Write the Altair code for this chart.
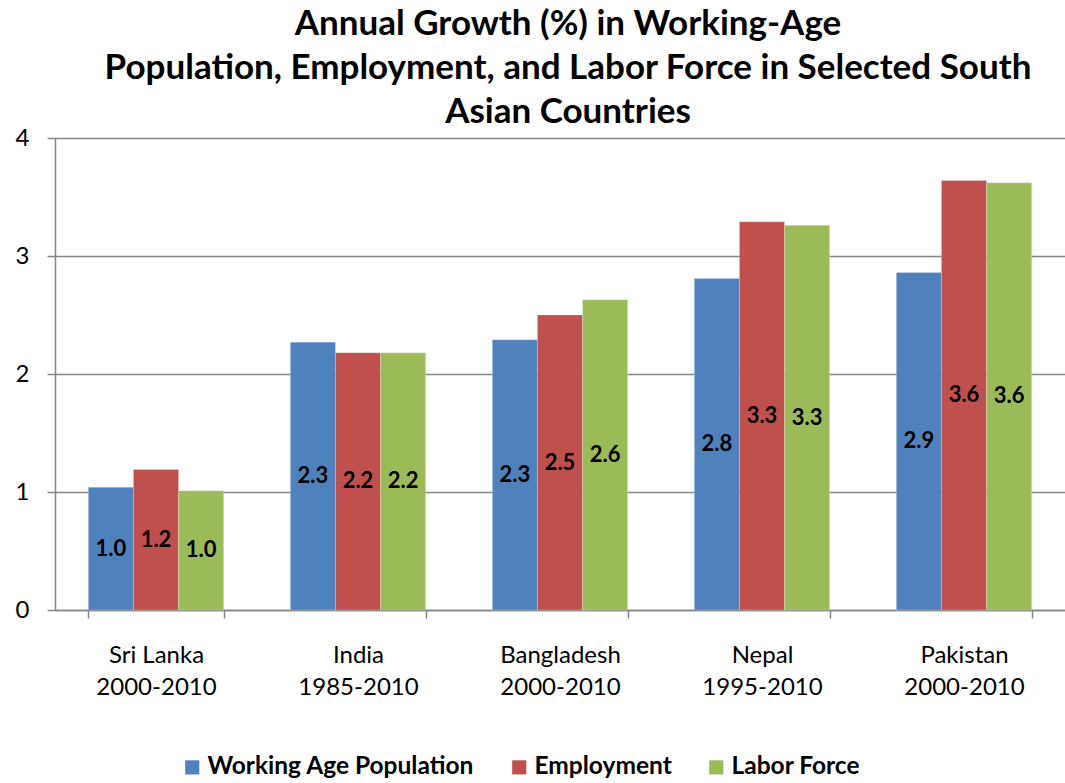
import altair as alt
import pandas as pd

countries = ["Sri Lanka|2000-2010", "India|1985-2010", "Bangladesh|2000-2010",
             "Nepal|1995-2010", "Pakistan|2000-2010"]
series = ["Working Age Population", "Employment", "Labor Force"]
working_age = [1.04, 2.27, 2.29, 2.81, 2.86]
employment = [1.19, 2.18, 2.50, 3.29, 3.64]
labor_force = [1.01, 2.18, 2.63, 3.26, 3.62]
colors = ["#4F81BD", "#C0504D", "#9BBB59"]

rows = []
for i, c in enumerate(countries):
    for s, vals in zip(series, [working_age, employment, labor_force]):
        rows.append({"country": c, "series": s, "value": vals[i]})
df = pd.DataFrame(rows)

FONT = "Lato"

x = alt.X("country:N", sort=countries, title=None,
          scale=alt.Scale(paddingInner=0.33, paddingOuter=0.165),
          axis=alt.Axis(labelExpr="split(datum.label, '|')", labelAngle=0,
                        tickBand="extent", labelFontSize=24, labelLineHeight=32,
                        labelPadding=25, tickSize=8, labelColor="#000000",
                        domainColor="#868686", tickColor="#868686",
                        domainWidth=1.5, tickWidth=1.5, grid=False))
xo = alt.XOffset("series:N", sort=series, scale=alt.Scale(paddingInner=0, paddingOuter=0))

bars = alt.Chart(df).mark_bar(stroke="#ffffff", strokeWidth=0.4, strokeOpacity=0.6).encode(
    x=x,
    xOffset=xo,
    y=alt.Y("value:Q", title=None,
            scale=alt.Scale(domain=[0, 4], nice=False),
            axis=alt.Axis(values=[0, 1, 2, 3, 4], format="d", labelFontSize=24,
                          labelColor="#000000", tickSize=8, labelPadding=18,
                          domainColor="#868686", tickColor="#868686",
                          gridColor="#868686", gridWidth=1.5,
                          domainWidth=1.5, tickWidth=1.5)),
    color=alt.Color("series:N", sort=series,
                    scale=alt.Scale(domain=series, range=colors),
                    legend=alt.Legend(title=None, orient="none", direction="horizontal",
                                      legendX=125, legendY=617,
                                      symbolType="square", symbolSize=200,
                                      symbolStrokeWidth=0, labelFontSize=24.5,
                                      labelFontWeight="bold", labelColor="#000000",
                                      labelOffset=3, columnPadding=32, labelLimit=0)),
)

labels = alt.Chart(df).transform_calculate(
    mid="datum.value / 2"
).mark_text(fontSize=22, fontWeight="bold", color="#000000", font=FONT).encode(
    x=alt.X("country:N", sort=countries),
    xOffset=xo,
    y=alt.Y("mid:Q"),
    text=alt.Text("value:Q", format=".1f"),
)

chart = alt.layer(bars, labels).properties(
    width=1010, height=472,
    padding={"left": 55, "top": 138, "right": 0, "bottom": 173},
    autosize=alt.AutoSizeParams(type="none"),
    title=alt.Title(["Annual Growth (%) in Working-Age",
                     "Population, Employment, and Labor Force in Selected South",
                     "Asian Countries"],
                    fontSize=35, fontWeight="bold", font=FONT, color="#000000",
                    lineHeight=44, anchor="middle", offset=-4, dx=8),
).configure(font=FONT).configure_view(stroke=None).configure_axis(labelFont=FONT)

chart.save("out.html", embed_options={"renderer": "svg", "actions": False})
